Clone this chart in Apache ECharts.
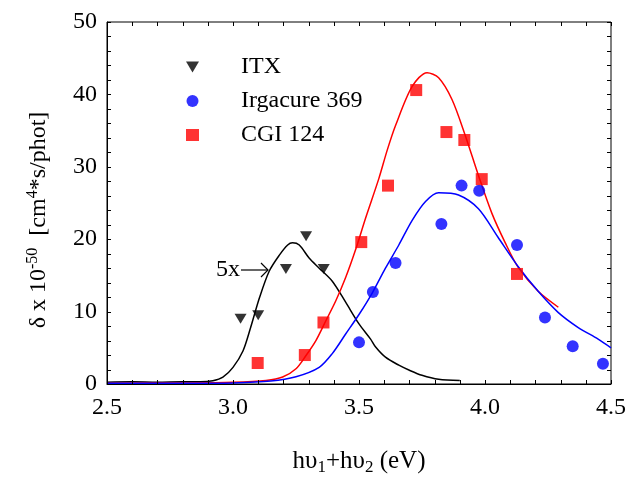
<!DOCTYPE html>
<html>
<head>
<meta charset="utf-8">
<script src="https://cdn.jsdelivr.net/npm/echarts@6/dist/echarts.min.js"></script>
<style>
  html, body { margin: 0; padding: 0; background: #fff; }
  #chart { width: 629px; height: 481px; }
</style>
</head>
<body>
<div id="chart"></div>
<script>
// Measured two-photon cross sections (markers)
const itxX = [3.03, 3.10, 3.21, 3.29, 3.36];
const itxY = [9.0, 9.5, 15.9, 20.4, 15.9];

const irgX = [3.50, 3.555, 3.645, 3.827, 3.907, 3.977, 4.127, 4.238, 4.348, 4.468];
const irgY = [5.75, 12.7, 16.7, 22.1, 27.4, 26.7, 19.2, 9.2, 5.2, 2.8];

const cgiX = [3.098, 3.285, 3.359, 3.509, 3.615, 3.727, 3.847, 3.918, 3.987, 4.127];
const cgiY = [2.9, 4.0, 8.5, 19.6, 27.4, 40.6, 34.8, 33.7, 28.3, 15.2];

// Absorption-derived spectra (solid curves)
const itxCurveX = [2.5, 2.6, 2.7, 2.8, 2.87, 2.92, 2.96, 3.0, 3.04, 3.07, 3.105, 3.144, 3.184, 3.217, 3.236, 3.263, 3.302, 3.342, 3.394, 3.447, 3.5, 3.546, 3.566, 3.605, 3.658, 3.7, 3.75, 3.816, 3.9];
const itxCurveY = [0.25, 0.3, 0.25, 0.3, 0.3, 0.45, 0.95, 2.3, 4.6, 7.8, 11.9, 15.6, 17.8, 19.2, 19.5, 19.2, 17.4, 16.0, 14.2, 11.3, 8.3, 6.2, 5.1, 3.7, 2.6, 1.9, 1.2, 0.65, 0.5];

const cgiCurveX = [2.5, 2.8, 3.0, 3.131, 3.197, 3.25, 3.289, 3.329, 3.368, 3.408, 3.447, 3.487, 3.526, 3.579, 3.612, 3.645, 3.711, 3.77, 3.816, 3.869, 3.922, 3.974, 4.027, 4.079, 4.132, 4.211, 4.291];
const cgiCurveY = [0.1, 0.15, 0.25, 0.5, 0.96, 2.1, 3.9, 6.0, 8.7, 11.5, 14.7, 18.6, 22.9, 28.4, 32.3, 35.7, 41.1, 43.0, 42.3, 39.3, 34.3, 28.8, 23.6, 19.6, 16.1, 12.8, 10.6];

const irgCurveX = [2.5, 2.8, 3.0, 3.15, 3.25, 3.342, 3.394, 3.447, 3.5, 3.553, 3.605, 3.658, 3.711, 3.764, 3.816, 3.895, 3.974, 4.051, 4.132, 4.211, 4.29, 4.37, 4.449, 4.5];
const irgCurveY = [0.1, 0.1, 0.15, 0.4, 1.0, 2.3, 4.2, 6.9, 9.6, 12.6, 16.0, 19.2, 22.6, 25.2, 26.4, 26.1, 24.2, 20.3, 16.2, 12.8, 9.9, 7.8, 6.2, 5.0];

const xTicks = ['2.5', '3.0', '3.5', '4.0', '4.5'];
const yTicks = ['0', '10', '20', '30', '40', '50'];

const X_MIN = 2.5, X_MAX = 4.5, X_STEP = 0.5;
const Y_MIN = 0, Y_MAX = 50, Y_STEP = 10;
const MINOR_SPLIT = 5;

const pairs = (xs, ys) => xs.map((x, i) => [x, ys[i]]);

// Tick positions along each frame side (major + minor)
function tickValues(min, max, step, split) {
  const out = [];
  const n = Math.round((max - min) / step) * split;
  for (let i = 0; i <= n; i++) out.push(+(min + i * step / split).toFixed(4));
  return out;
}
const xTickVals = tickValues(X_MIN, X_MAX, X_STEP, MINOR_SPLIT);
const yTickVals = tickValues(Y_MIN, Y_MAX, Y_STEP, MINOR_SPLIT);

const FONT = '"Liberation Serif", "Times New Roman", serif';
const downTri = 'path://M0,0L12,0L6,10Z';
const TICK_LEN = 4;

function frameSide(position, min, max, interval, extra) {
  return Object.assign({
    type: 'value',
    position: position,
    min: min,
    max: max,
    interval: interval,
    axisLine: { show: true, onZero: false, lineStyle: { color: '#000', width: 1 } },
    axisTick: { show: false },
    minorTick: { show: false },
    splitLine: { show: false },
    minorSplitLine: { show: false },
    axisLabel: { show: false }
  }, extra || {});
}

// Inward tick marks on two opposite frame sides
function tickLine(x1, y1, x2, y2) {
  return { type: 'line', shape: { x1: x1, y1: y1, x2: x2, y2: y2 }, style: { stroke: '#000', lineWidth: 1 } };
}
function renderXTicks(params, api) {
  const v = api.value(0);
  const b = api.coord([v, Y_MIN]);
  const t = api.coord([v, Y_MAX]);
  const x = Math.round(b[0]) + 0.5;
  return { type: 'group', children: [
    tickLine(x, b[1], x, b[1] - TICK_LEN),
    tickLine(x, t[1], x, t[1] + TICK_LEN)
  ] };
}
function renderYTicks(params, api) {
  const v = api.value(1);
  const l = api.coord([X_MIN, v]);
  const r = api.coord([X_MAX, v]);
  const y = Math.round(l[1]) + 0.5;
  return { type: 'group', children: [
    tickLine(l[0], y, l[0] + TICK_LEN, y),
    tickLine(r[0], y, r[0] - TICK_LEN, y)
  ] };
}

const chart = echarts.init(document.getElementById('chart'), null, { renderer: 'canvas' });

chart.setOption({
  backgroundColor: '#fff',
  animation: false,
  grid: {
    left: 107, right: 16, top: 22, bottom: 94, containLabel: false,
    show: true, borderColor: '#000', borderWidth: 1, backgroundColor: 'transparent'
  },
  legend: {
    orient: 'vertical',
    left: 181,
    top: 50,
    itemWidth: 13,
    itemHeight: 12,
    itemGap: 10,
    selectedMode: false,
    textStyle: { fontFamily: FONT, fontSize: 24, color: '#000', padding: [0, 0, 0, 37] },
    data: [
      { name: 'ITX', icon: downTri, itemStyle: { color: '#000' } },
      { name: 'Irgacure 369', icon: 'circle', itemStyle: { color: '#0000ff' } },
      { name: 'CGI 124', icon: 'rect', itemStyle: { color: '#ff0000' } }
    ]
  },
  xAxis: [
    frameSide('bottom', X_MIN, X_MAX, X_STEP, {
      axisLabel: {
        show: true, fontFamily: FONT, fontSize: 24, color: '#000', margin: 12,
        formatter: (v) => xTicks[Math.round((v - X_MIN) / X_STEP)] ?? ''
      },
      name: '{t|h\u03c5}{s|1}{t|+h\u03c5}{s|2}{t| (eV)}',
      nameLocation: 'middle',
      nameGap: 63,
      nameTextStyle: {
        rich: {
          t: { fontFamily: FONT, fontSize: 25, color: '#000' },
          s: { fontFamily: FONT, fontSize: 17, color: '#000', verticalAlign: 'bottom', padding: [12, 0, 0, 0] }
        }
      }
    })
  ],
  yAxis: [
    frameSide('left', Y_MIN, Y_MAX, Y_STEP, {
      axisLabel: {
        show: true, fontFamily: FONT, fontSize: 24, color: '#000', margin: 10,
        formatter: (v) => yTicks[Math.round(v / Y_STEP)] ?? ''
      },
      name: '{t|\u03b4 x 10}{p|-50}{t|  [cm}{p|4}{e|*s/phot]}',
      nameLocation: 'middle',
      nameGap: 54,
      nameRotate: 90,
      nameTextStyle: {
        rich: {
          t: { fontFamily: FONT, fontSize: 24, color: '#000' },
          e: { fontFamily: FONT, fontSize: 24, color: '#000', padding: [0, 34, 0, 0] },
          p: { fontFamily: FONT, fontSize: 16, color: '#000', verticalAlign: 'top', padding: [0, 0, 12, 0] }
        }
      }
    })
  ],
  graphic: [
    {
      type: 'text', left: 216, top: 258,
      style: { text: '5x', fontFamily: FONT, fontSize: 24, fill: '#000' }
    },
    {
      type: 'polyline',
      shape: { points: [[241, 270], [268, 270]] },
      style: { stroke: '#000', lineWidth: 1.2, fill: null }
    },
    {
      type: 'polyline',
      shape: { points: [[261, 263], [268, 270], [261, 277]] },
      style: { stroke: '#000', lineWidth: 1.2, fill: null }
    }
  ],
  series: [
    {
      name: 'x ticks', type: 'custom', renderItem: renderXTicks, silent: true, z: 5,
      encode: { x: 0, y: 1 }, data: xTickVals.map((v) => [v, Y_MIN])
    },
    {
      name: 'y ticks', type: 'custom', renderItem: renderYTicks, silent: true, z: 5,
      encode: { x: 0, y: 1 }, data: yTickVals.map((v) => [X_MIN, v])
    },
    {
      name: 'ITX spectrum', type: 'line', showSymbol: false, smooth: 0.3,
      lineStyle: { color: '#000', width: 1.5 }, data: pairs(itxCurveX, itxCurveY), z: 2
    },
    {
      name: 'CGI 124 spectrum', type: 'line', showSymbol: false, smooth: 0.3,
      lineStyle: { color: '#ff0000', width: 1.5 }, data: pairs(cgiCurveX, cgiCurveY), z: 2
    },
    {
      name: 'Irgacure 369 spectrum', type: 'line', showSymbol: false, smooth: 0.3,
      lineStyle: { color: '#0000ff', width: 1.5 }, data: pairs(irgCurveX, irgCurveY), z: 2
    },
    {
      name: 'ITX', type: 'scatter', symbol: downTri, symbolSize: [12, 10],
      itemStyle: { color: '#000' }, data: pairs(itxX, itxY), z: 3
    },
    {
      name: 'Irgacure 369', type: 'scatter', symbol: 'circle', symbolSize: 12,
      itemStyle: { color: '#0000ff' }, data: pairs(irgX, irgY), z: 3
    },
    {
      name: 'CGI 124', type: 'scatter', symbol: 'rect', symbolSize: 12,
      itemStyle: { color: '#ff0000' }, data: pairs(cgiX, cgiY), z: 3
    }
  ]
});
</script>
</body>
</html>
